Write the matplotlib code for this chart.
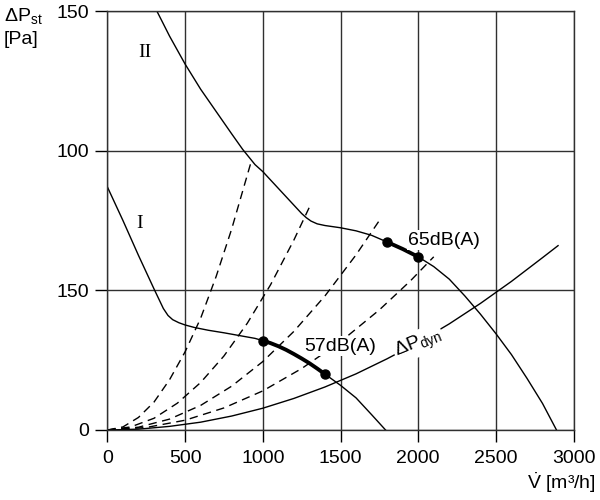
import matplotlib
matplotlib.use("Agg")
import matplotlib.pyplot as plt

plt.rcParams['font.family'] = ['Liberation Sans', 'DejaVu Sans']
plt.rcParams['mathtext.fontset'] = 'custom'
plt.rcParams['mathtext.rm'] = 'Liberation Sans'

# fan curves
curve2_x = [318, 350, 400, 450, 500, 550, 600, 650, 700, 750, 800, 870, 950, 1000,
            1050, 1100, 1150, 1200, 1250, 1280, 1310, 1350, 1400, 1450, 1500, 1600,
            1700, 1800, 1900, 2000, 2100, 2200, 2300, 2400, 2500, 2600, 2700, 2800, 2890]
curve2_y = [150, 146.5, 141, 136, 131, 126.5, 122, 118, 114, 110, 106, 100.5, 95, 92.5,
            89.5, 86.5, 83.5, 80.5, 77.5, 76, 74.8, 73.8, 73.2, 72.8, 72.4, 71.3,
            69.7, 67.3, 64.8, 62, 58.5, 54, 48, 41.5, 34.5, 27, 18.5, 9.5, 0]
curve1_x = [0, 100, 200, 300, 330, 360, 390, 420, 460, 500, 560, 650, 750, 850, 950,
            1000, 1050, 1100, 1150, 1200, 1250, 1300, 1350, 1400, 1500, 1600, 1700, 1790]
curve1_y = [87, 75, 62.5, 50.5, 47, 43.5, 41, 39.5, 38.4, 37.6, 36.7, 35.7, 34.8, 33.8, 32.8,
            32, 31.1, 30, 28.7, 27.2, 25.6, 23.9, 22, 20, 16, 11.5, 5.5, 0]

# operating ranges (thick parts) with end dots
range57_x = [1000, 1050, 1100, 1150, 1200, 1250, 1300, 1350, 1400]
range57_y = [32, 31.1, 30, 28.7, 27.2, 25.6, 23.9, 22, 20]
range65_x = [1800, 1900, 2000]
range65_y = [67.3, 64.8, 62]

# system curves (dashed)
sys_x = [[0, 100, 200, 300, 400, 500, 600, 700, 800, 930],
         [0, 150, 300, 450, 600, 750, 900, 1050, 1200, 1300],
         [0, 200, 400, 600, 800, 1000, 1200, 1400, 1600, 1750],
         [0, 250, 500, 750, 1000, 1250, 1500, 1750, 1950, 2100]]
sys_y = [[0, 1.1, 4.5, 10, 18, 28, 40, 55, 72, 97],
         [0, 1.1, 4.2, 9.6, 17, 26.5, 38.2, 52, 68, 79.8],
         [0, 1, 3.9, 8.8, 15.7, 24.5, 35.3, 48, 62.7, 75],
         [0, 0.9, 3.5, 7.9, 14, 22, 31.6, 43, 53.4, 62]]

# dynamic pressure
dyn_x = [0, 200, 400, 600, 800, 1000, 1200, 1400, 1600, 1800, 2000, 2200, 2400,
         2600, 2800, 2900]
dyn_y = [0, 0.3, 1.3, 2.8, 5, 7.8, 11.3, 15.4, 20.1, 25.5, 31.4, 38, 45.3,
         53.2, 61.7, 66]

xticks = [0, 500, 1000, 1500, 2000, 2500, 3000]
yticks = [0, 50, 100, 150]
ytick_labels = ['0', '150', '100', '150']

fig = plt.figure(figsize=(6, 5), dpi=100)
ax = fig.add_axes([0.179, 0.14, 0.777, 0.838])

ax.plot(curve2_x, curve2_y, color='k', lw=1.0)
ax.plot(curve1_x, curve1_y, color='k', lw=1.0)
for xs, ys in zip(sys_x, sys_y):
    ax.plot(xs, ys, color='k', lw=1.0, ls=(0, (6, 4)))
ax.plot(dyn_x, dyn_y, color='k', lw=1.0)

for xs, ys in [(range57_x, range57_y), (range65_x, range65_y)]:
    ax.plot(xs, ys, color='k', lw=2.8, solid_capstyle='round')
    ax.plot([xs[0], xs[-1]], [ys[0], ys[-1]], 'o', color='k', ms=6.5)

box = dict(facecolor='white', edgecolor='none', pad=1.0)
ax.text(1495, 30, '57dB(A)', fontsize=14, ha='center', va='center', bbox=box, zorder=5)
ax.text(2165, 68, '65dB(A)', fontsize=14, ha='center', va='center', bbox=box, zorder=5)
ax.text(2000, 31, r'ΔP$_{\mathrm{dyn}}$', fontsize=14, ha='center', va='center',
        rotation=22, rotation_mode='anchor', bbox=box, zorder=5)
ax.text(240, 135, 'II', fontsize=14, family='Liberation Serif', ha='center', va='center')
ax.text(208, 74, 'I', fontsize=14, family='Liberation Serif', ha='center', va='center')

ax.set_xlim(0, 3000)
ax.set_ylim(0, 150)
ax.set_xticks(xticks)
ax.set_yticks(yticks)
ax.set_yticklabels(ytick_labels)
ax.tick_params(direction='out', length=8.5, width=1, labelsize=14)
ax.tick_params(axis='x', pad=6)
ax.tick_params(axis='y', pad=5)
ax.grid(True, color='#303030', lw=1.0)
for s in ax.spines.values():
    s.set_linewidth(1.0)
    s.set_color('#303030')

fig.text(0.006, 0.956, r'ΔP$_{\mathrm{st}}$', fontsize=14, ha='left', va='baseline')
fig.text(0.006, 0.912, '[Pa]', fontsize=14, ha='left', va='baseline')
fig.text(0.993, 0.022, r'$\dot{\mathrm{V}}$ [m³/h]', fontsize=14, ha='right', va='baseline')

fig.savefig('out.png', dpi=100)
